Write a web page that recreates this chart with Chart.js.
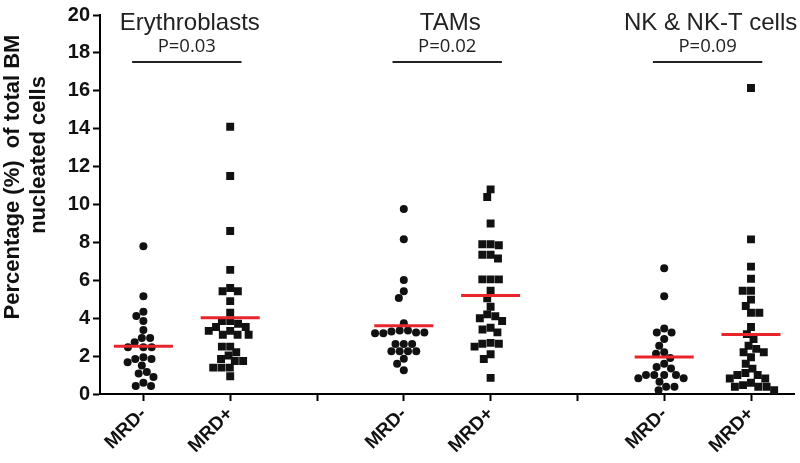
<!DOCTYPE html>
<html>
<head>
<meta charset="utf-8">
<script src="https://cdn.jsdelivr.net/npm/chart.js@4"></script>
<style>
  html, body { margin: 0; padding: 0; background: #fff; }
  #wrap { width: 800px; height: 463px; position: relative; }
</style>
</head>
<body>
<div id="wrap"><canvas id="c"></canvas></div>
<script>
// group names, p-values and x tick labels
const groups = ["Erythroblasts", "TAMs", "NK & NK-T cells"];
const pValues = ["P=0.03", "P=0.02", "P=0.09"];
const tickLabels = ["MRD-", "MRD+", "", "MRD-", "MRD+", "", "MRD-", "MRD+"];

// % of total BM nucleated cells
const eryNeg = [7.8, 5.16, 4.34, 4.11, 3.85, 3.38, 2.95, 2.95, 2.73, 2.47, 2.47, 2.47,
  1.94, 1.85, 1.85, 1.68, 1.51, 1.16, 1.08, 0.9, 0.59, 0.42, 0.42];
const eryPos = [14.1, 11.5, 8.6, 6.55, 5.59, 5.42, 5.42, 4.9, 4.29, 3.85, 3.85, 3.71,
  3.54, 3.54, 3.33, 3.33, 3.13, 3.13, 3.13, 2.5, 2.5, 2.2, 2.03, 1.85, 1.74, 1.74,
  1.39, 1.39, 1.39, 0.94];
const tamNeg = [9.76, 8.16, 6.02, 5.42, 5.07, 3.73, 3.35, 3.3, 3.25, 3.2, 3.2, 3.25,
  3.35, 2.64, 2.64, 2.64, 2.26, 2.26, 2.26, 2.26, 1.86, 1.6, 1.25];
const tamPos = [10.8, 10.4, 9.0, 7.9, 7.9, 7.85, 7.35, 7.35, 7.15, 6.05, 6.05, 6.05,
  5.45, 5.05, 4.6, 4.2, 4.1, 4.0, 3.85, 3.5, 3.4, 3.25, 2.7, 2.65, 2.65, 2.5, 2.1,
  1.85, 0.85];
const nkNeg = [6.63, 5.16, 3.45, 3.25, 3.25, 2.9, 2.55, 2.2, 2.13, 1.9, 1.6, 1.42,
  1.35, 1.0, 1.0, 1.0, 1.0, 0.83, 0.83, 0.64, 0.38, 0.38, 0.2];
const nkPos = [16.15, 8.16, 6.72, 6.08, 5.45, 5.45, 4.98, 4.64, 4.29, 4.29, 3.54,
  3.16, 2.9, 2.55, 2.38, 2.2, 2.2, 1.94, 1.6, 1.34, 1.11, 1.0, 1.0, 0.82, 0.82,
  0.59, 0.47, 0.38, 0.38, 0.38, 0.2];

const series = [eryNeg, eryPos, tamNeg, tamPos, nkNeg, nkPos];
const positions = [0, 1, 3, 4, 6, 7];

const RED = "#e8252b";
const INK = "#111";

const mean = (a) => a.reduce((s, v) => s + v, 0) / a.length;

const meanSets = series.map((vals, i) => ({
  type: "line",
  data: [
    { x: positions[i] - 0.34, y: mean(vals) },
    { x: positions[i] + 0.34, y: mean(vals) },
  ],
  borderColor: RED,
  borderWidth: 3,
  pointRadius: 0,
  order: 0,
}));

const pointSets = series.map((vals, i) => {
  const neg = i % 2 === 0;
  return {
    type: "scatter",
    center: positions[i],
    values: vals,
    data: vals.map((v) => ({ x: positions[i], y: v })),
    pointStyle: neg ? "circle" : "rect",
    pointRadius: neg ? 4 : 5.6,
    backgroundColor: INK,
    borderColor: INK,
    borderWidth: 0,
    order: 1,
  };
});

// spread points of equal value sideways, like a beeswarm
function swarm(chart) {
  const xs = chart.scales.x;
  const ys = chart.scales.y;
  const unit = xs.getPixelForValue(1) - xs.getPixelForValue(0);
  const d = 8.3;
  pointSets.forEach((ds) => {
    const order = ds.values
      .map((v, i) => i)
      .sort((a, b) => ds.values[b] - ds.values[a]);
    const placed = [];
    const off = new Array(ds.values.length).fill(0);
    order.forEach((i) => {
      const py = ys.getPixelForValue(ds.values[i]);
      const near = placed.filter((p) => Math.abs(p.y - py) < d);
      const cands = [0];
      near.forEach((p) => {
        const dx = Math.sqrt(d * d - (p.y - py) * (p.y - py));
        cands.push(p.x - dx, p.x + dx);
      });
      cands.sort((a, b) => Math.abs(a) - Math.abs(b) || a - b);
      let pick = 0;
      for (const c of cands) {
        const ok = near.every((p) => {
          const dx = Math.sqrt(d * d - (p.y - py) * (p.y - py));
          return Math.abs(c - p.x) >= dx - 1e-6;
        });
        if (ok) { pick = c; break; }
      }
      placed.push({ x: pick, y: py });
      off[i] = pick;
    });
    ds.data = ds.values.map((v, i) => ({ x: ds.center + off[i] / unit, y: v }));
  });
}

const labelsPlugin = {
  id: "labels",
  afterDraw(chart) {
    const { ctx, scales } = chart;
    const xs = scales.x;
    ctx.save();
    ctx.fillStyle = "#222";
    ctx.textAlign = "center";
    ctx.textBaseline = "middle";
    groups.forEach((g, k) => {
      const c = positions[k * 2] + 0.5;
      const cx = xs.getPixelForValue(c);
      ctx.font = "24px 'Liberation Sans', Arial, sans-serif";
      ctx.fillText(g, cx + 3, 23);
      ctx.font = "18.5px 'Open Sans', sans-serif";
      ctx.fillText(pValues[k], cx, 47);
      ctx.strokeStyle = "#222";
      ctx.lineWidth = 2;
      ctx.beginPath();
      ctx.moveTo(xs.getPixelForValue(c - 0.63), 62);
      ctx.lineTo(xs.getPixelForValue(c + 0.63), 62);
      ctx.stroke();
    });
    // y axis title, two lines
    ctx.font = "bold 22px 'Liberation Sans', Arial, sans-serif";
    ctx.fillStyle = "#111";
    ctx.save();
    ctx.translate(13, 177);
    ctx.rotate(-Math.PI / 2);
    ctx.fillText("Percentage (%)  of total BM", 0, 0);
    ctx.restore();
    ctx.save();
    ctx.translate(39, 155);
    ctx.rotate(-Math.PI / 2);
    ctx.fillText("nucleated cells", 0, 0);
    ctx.restore();
    ctx.restore();
  },
};

const chart = new Chart(document.getElementById("c"), {
  data: { datasets: [...meanSets, ...pointSets] },
  options: {
    responsive: true,
    maintainAspectRatio: false,
    animation: false,
    events: [],
    layout: { padding: { left: 60, top: 10, right: 4, bottom: 0 } },
    plugins: { legend: { display: false }, tooltip: { enabled: false } },
    scales: {
      x: {
        type: "linear",
        min: -0.5,
        max: 7.5,
        afterBuildTicks: (axis) => {
          axis.ticks = tickLabels.map((_, i) => ({ value: i }));
        },
        afterFit: (s) => { s.height = 69; },
        grid: {
          drawOnChartArea: false,
          tickLength: 7,
          tickColor: "#000",
          tickWidth: 2,
        },
        border: { color: "#000", width: 2 },
        ticks: {
          minRotation: 45,
          maxRotation: 45,
          autoSkip: false,
          padding: 2,
          color: "#111",
          font: { family: "'Liberation Sans', Arial", size: 19, weight: "bold" },
          callback: (v) => tickLabels[v],
        },
      },
      y: {
        min: 0,
        max: 20,
        afterFit: (s) => { s.width = 40; },
        grid: {
          drawOnChartArea: false,
          tickLength: 7,
          tickColor: "#000",
          tickWidth: 2,
        },
        border: { color: "#000", width: 2 },
        ticks: {
          stepSize: 2,
          padding: 3,
          color: "#111",
          font: { family: "'Liberation Sans', Arial", size: 20, weight: "bold" },
        },
      },
    },
  },
  plugins: [labelsPlugin],
});

swarm(chart);
chart.update("none");
</script>
</body>
</html>
